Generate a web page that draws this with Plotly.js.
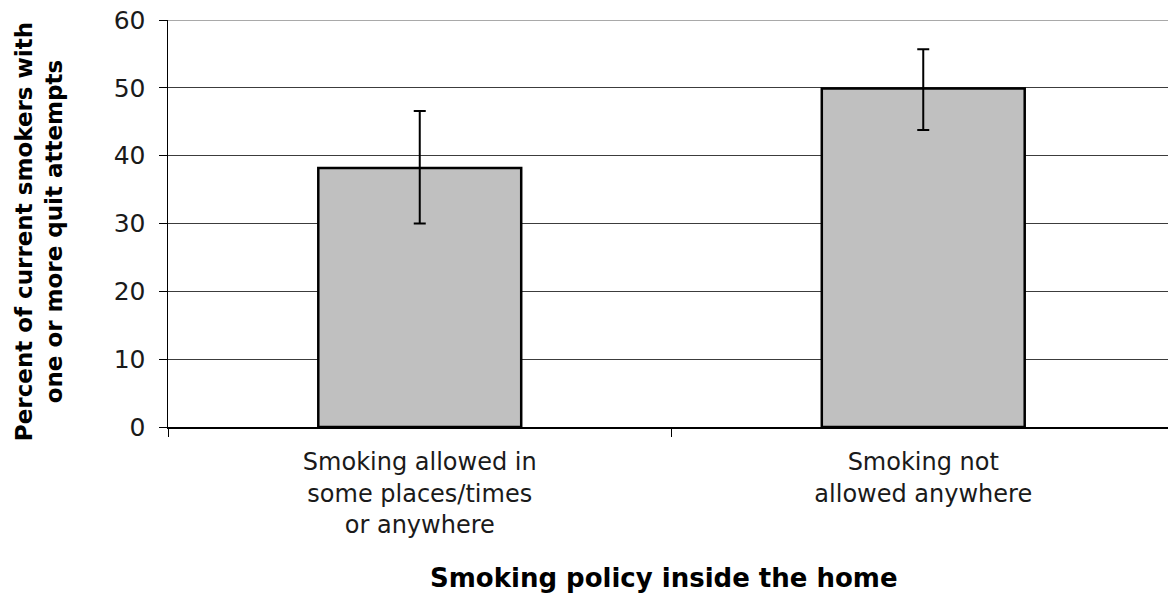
<!DOCTYPE html>
<html>
<head>
<meta charset="utf-8">
<script src="https://cdn.plot.ly/plotly-3.0.1.min.js"></script>
<style>
  html, body { margin: 0; padding: 0; overflow: hidden; background: #fff; }
  #chart { width: 1175px; height: 597px; }
</style>
</head>
<body>
<div id="chart"></div>
<script>
// Smoking policy inside the home vs. share of smokers with quit attempts
var categories = [
  "Smoking allowed in<br>some places/times<br>or anywhere",
  "Smoking not<br>allowed anywhere"
];
var percentValues = [38.2, 49.9];
var errorUpper = [8.4, 5.8];
var errorLower = [8.2, 6.1];
var yTickValues = [0, 10, 20, 30, 40, 50, 60];

var FONT = "DejaVu Sans, Verdana, sans-serif";

var trace = {
  type: "bar",
  x: categories,
  y: percentValues,
  marker: { color: "#c0c0c0", line: { color: "#000000", width: 2.5 } },
  error_y: {
    type: "data",
    symmetric: false,
    array: errorUpper,
    arrayminus: errorLower,
    color: "#000000",
    thickness: 2,
    width: 6
  },
  hoverinfo: "none"
};

var layout = {
  width: 1175,
  height: 597,
  margin: { l: 168, r: 0, t: 20, b: 170 },
  paper_bgcolor: "#ffffff",
  plot_bgcolor: "#ffffff",
  showlegend: false,
  bargap: 0.597,
  font: { family: FONT, color: "#000000" },
  xaxis: {
    type: "category",
    range: [-0.5, 1.5],
    showline: true,
    linecolor: "#000000",
    linewidth: 1.5,
    ticks: "outside",
    tickson: "boundaries",
    ticklen: 8,
    tickcolor: "#000000",
    tickwidth: 1,
    showgrid: false,
    tickfont: { family: FONT, size: 24, color: "#1a1a1a" },
    ticklabelstandoff: 13
  },
  yaxis: {
    range: [0, 60],
    tickmode: "array",
    tickvals: yTickValues,
    ticktext: yTickValues.map(String),
    showline: true,
    linecolor: "#000000",
    linewidth: 1.5,
    ticks: "outside",
    ticklen: 8,
    tickcolor: "#000000",
    tickwidth: 1,
    showgrid: true,
    gridcolor: "#3c3c3c",
    gridwidth: 1,
    zeroline: false,
    tickfont: { family: FONT, size: 25, color: "#1a1a1a" },
    ticklabelstandoff: 8
  },
  shapes: [
    {
      type: "line", xref: "paper", yref: "y",
      x0: 0, x1: 1, y0: 60, y1: 60,
      line: { color: "#8c8c8c", width: 1.5 },
      layer: "above"
    }
  ],
  annotations: [
    {
      text: "<b>Smoking policy inside the home</b>",
      xref: "paper", yref: "paper",
      x: 0.4925, y: -0.37,
      xanchor: "center", yanchor: "middle",
      showarrow: false,
      font: { family: FONT, size: 26, color: "#000000" }
    },
    {
      text: "<b>Percent of current smokers with<br>one or more quit attempts</b>",
      xref: "paper", yref: "paper",
      x: -0.128, y: 0.479,
      xanchor: "center", yanchor: "middle",
      textangle: -90,
      showarrow: false,
      font: { family: FONT, size: 23, color: "#000000" }
    }
  ]
};

Plotly.newPlot("chart", [trace], layout, { displayModeBar: false, staticPlot: true });
</script>
</body>
</html>
